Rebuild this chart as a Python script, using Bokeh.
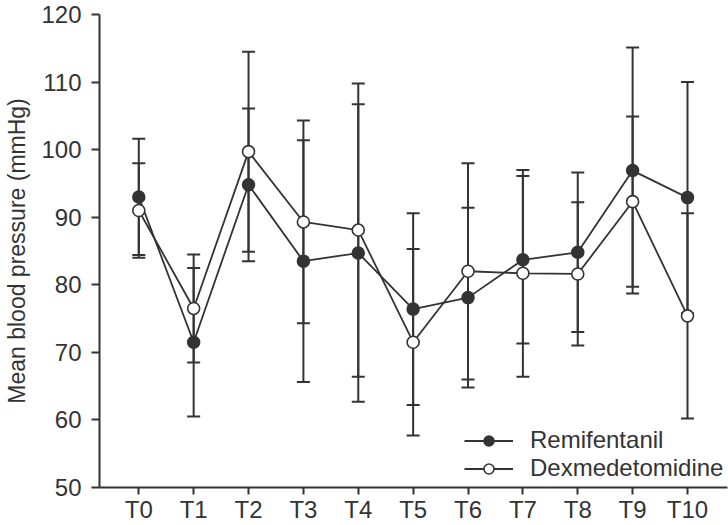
from bokeh.plotting import figure
from bokeh.models import (ColumnDataSource, Range1d, FixedTicker, Whisker, TeeHead,
                          Legend, LegendItem)
from bokeh.embed import file_html
from bokeh.resources import INLINE

# ---- data ----
labels = ["T0", "T1", "T2", "T3", "T4", "T5", "T6", "T7", "T8", "T9", "T10"]
remi_mean = [93.0, 71.5, 94.8, 83.5, 84.7, 76.4, 78.1, 83.7, 84.8, 96.9, 92.9]
remi_sd = [8.6, 11.0, 11.3, 17.9, 22.0, 14.2, 13.3, 12.4, 11.8, 18.2, 17.1]
dex_mean = [91.0, 76.5, 99.7, 89.3, 88.1, 71.5, 82.0, 81.7, 81.6, 92.3, 75.4]
dex_sd = [7.0, 8.0, 14.8, 15.0, 21.7, 13.8, 16.0, 15.3, 10.6, 12.6, 15.2]
series_names = ["Remifentanil", "Dexmedetomidine"]

FONT = "Liberation Sans"
INK = "#333333"

x = list(range(len(labels)))
src_r = ColumnDataSource(dict(x=x, y=remi_mean,
                              lo=[m - s for m, s in zip(remi_mean, remi_sd)],
                              hi=[m + s for m, s in zip(remi_mean, remi_sd)]))
src_d = ColumnDataSource(dict(x=x, y=dex_mean,
                              lo=[m - s for m, s in zip(dex_mean, dex_sd)],
                              hi=[m + s for m, s in zip(dex_mean, dex_sd)]))

p = figure(width=728, height=525, output_backend="svg", toolbar_location=None,
           x_range=Range1d(-0.716, 10.729), y_range=Range1d(50, 120),
           min_border_left=99, min_border_right=1, min_border_top=14, min_border_bottom=36)
p.outline_line_color = None
p.xgrid.visible = False
p.ygrid.visible = False
p.background_fill_color = "white"

# error bars
for src in (src_r, src_d):
    w = Whisker(source=src, base="x", lower="lo", upper="hi", dimension="height",
                line_color=INK, line_width=2,
                upper_head=TeeHead(size=13, line_color=INK, line_width=2),
                lower_head=TeeHead(size=13, line_color=INK, line_width=2))
    p.add_layout(w)

lr = p.line("x", "y", source=src_r, line_color=INK, line_width=1.8)
sr = p.scatter("x", "y", source=src_r, size=12, fill_color=INK, line_color=INK, line_width=1.5)
ld = p.line("x", "y", source=src_d, line_color=INK, line_width=1.8)
sd = p.scatter("x", "y", source=src_d, size=12, fill_color="white", line_color=INK, line_width=1.6)

legend = Legend(items=[LegendItem(label=series_names[0], renderers=[lr, sr]),
                       LegendItem(label=series_names[1], renderers=[ld, sd])],
                location=(365, 5), border_line_color=None, background_fill_alpha=0,
                padding=0, margin=0, spacing=0, glyph_width=49, glyph_height=25,
                label_height=25, label_standoff=17,
                label_text_font=FONT, label_text_font_size="24px", label_text_color=INK)
p.add_layout(legend, "center")

# axes
p.xaxis.ticker = FixedTicker(ticks=x)
p.xaxis.major_label_overrides = {i: t for i, t in enumerate(labels)}
p.yaxis.ticker = FixedTicker(ticks=list(range(50, 121, 10)))
p.yaxis.axis_label = "Mean blood pressure (mmHg)"
for ax in (p.xaxis, p.yaxis):
    ax.axis_line_color = INK
    ax.axis_line_width = 2
    ax.major_tick_line_color = INK
    ax.major_tick_line_width = 2
    ax.major_tick_in = 0
    ax.minor_tick_line_color = None
    ax.major_label_text_font = FONT
    ax.major_label_text_font_size = "24px"
    ax.major_label_text_color = INK
    ax.axis_label_text_font = FONT
    ax.axis_label_text_font_size = "23px"
    ax.axis_label_text_font_style = "normal"
    ax.axis_label_text_color = INK
p.xaxis.major_tick_out = 7
p.yaxis.major_tick_out = 8
p.xaxis.major_label_standoff = 1
p.yaxis.major_label_standoff = 10
p.yaxis.axis_label_standoff = 8

open("out.html", "w").write(file_html(p, INLINE))
